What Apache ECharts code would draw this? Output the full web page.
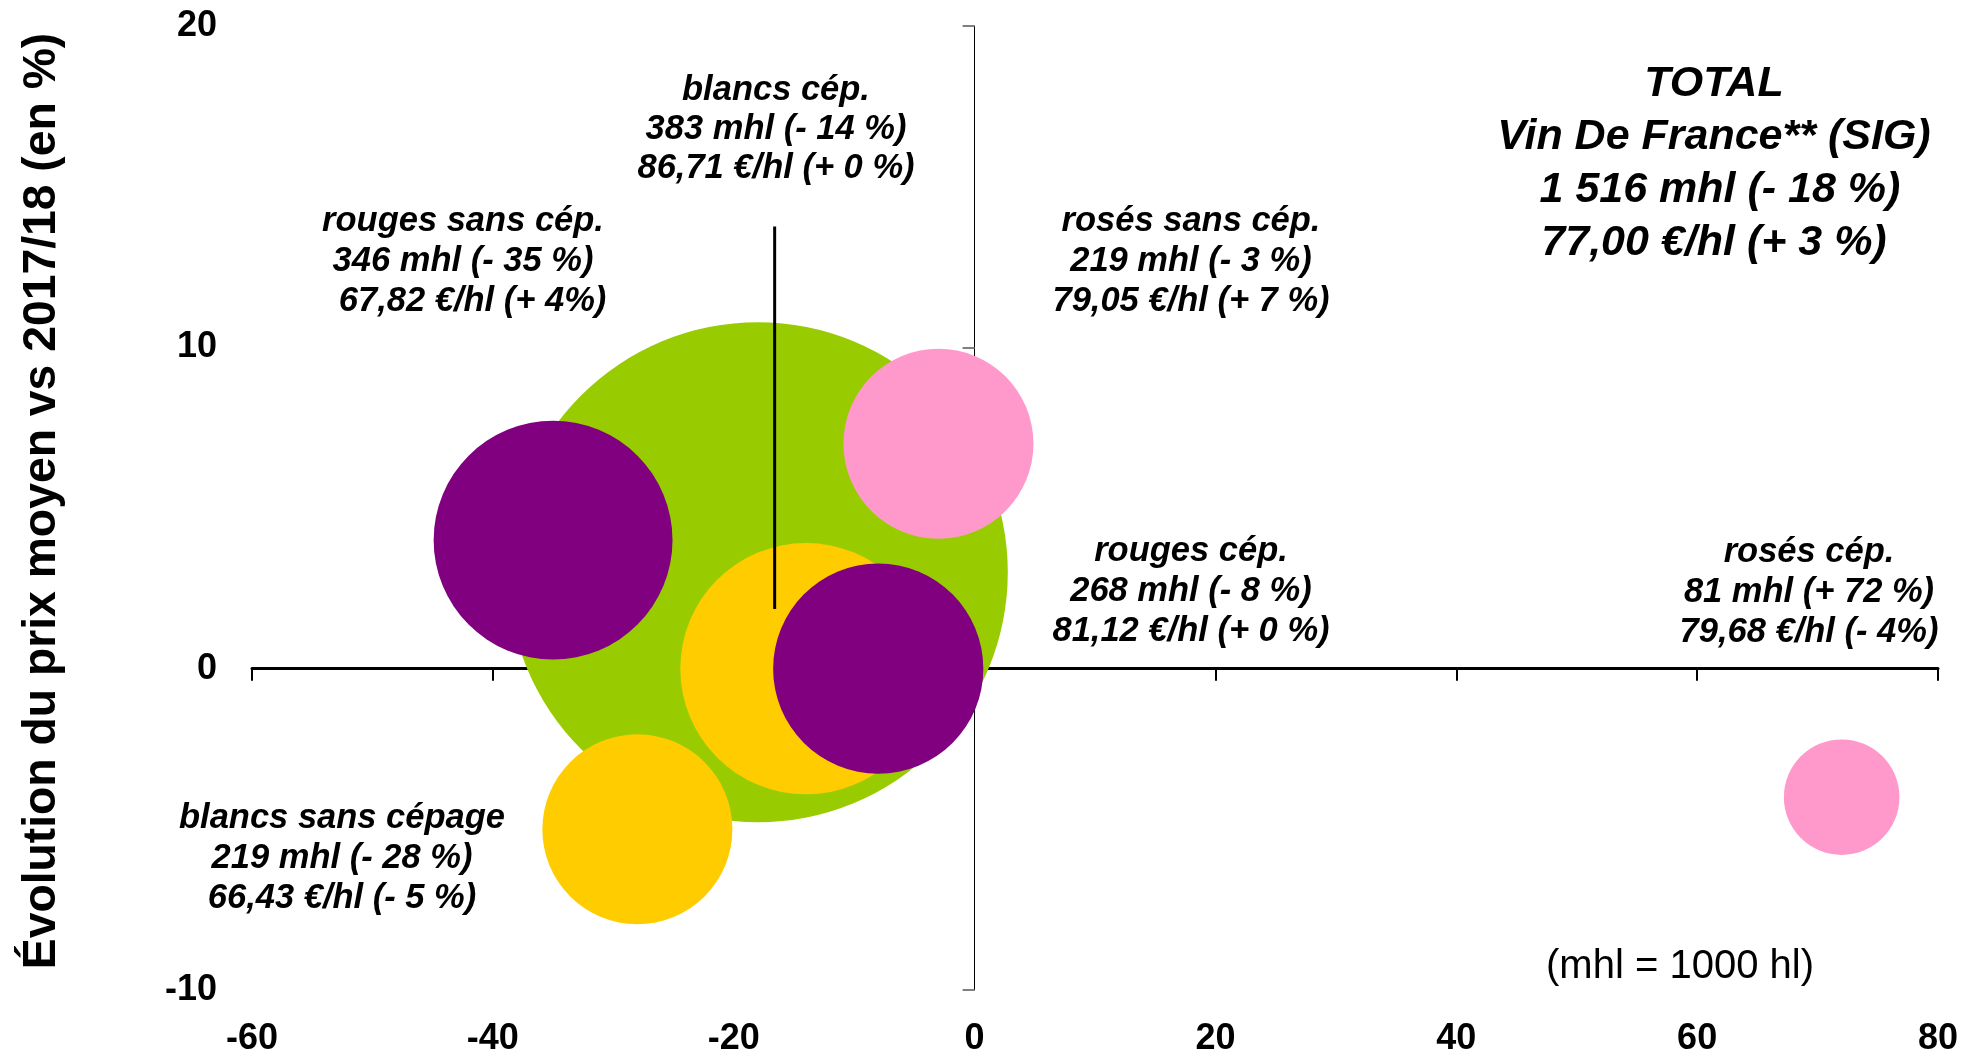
<!DOCTYPE html>
<html>
<head>
<meta charset="utf-8">
<script src="https://cdn.jsdelivr.net/npm/echarts@6/dist/echarts.min.js"></script>
<style>
html,body{margin:0;padding:0;background:#fff;}
#chart{width:1984px;height:1057px;}
</style>
</head>
<body>
<div id="chart"></div>
<script>
// ---- data ----
const categories = ['TOTAL', 'blancs cép.', 'rouges cép.', 'rouges sans cép.', 'rosés sans cép.', 'blancs sans cépage', 'rosés cép.'];
const volumeChange = [-18, -14, -8, -35, -3, -28, 72];     // x : évolution des volumes (%)
const priceChange  = [3, 0, 0, 4, 7, -5, -4];              // y : évolution du prix moyen (%)
const volumes      = [1516, 383, 268, 346, 219, 219, 81];  // mhl (bubble size)
const colors       = ['#99CC00', '#FFCC00', '#800080', '#800080', '#FF99CC', '#FFCC00', '#FF99CC'];
const xTicks = [-60, -40, -20, 0, 20, 40, 60, 80];
const yTicks = [-10, 0, 10, 20];
const labelTexts = [
  'TOTAL\nVin De France** (SIG)\n 1 516 mhl (- 18 %)\n77,00 €/hl (+ 3 %)',
  'blancs cép.\n383 mhl (- 14 %)\n86,71 €/hl (+ 0 %)',
  'rouges cép.\n268 mhl (- 8 %)\n81,12 €/hl (+ 0 %)',
  'rouges sans cép.\n346 mhl (- 35 %)\n  67,82 €/hl (+ 4%)',
  'rosés sans cép.\n219 mhl (- 3 %)\n79,05 €/hl (+ 7 %)',
  'blancs sans cépage\n219 mhl (- 28 %)\n66,43 €/hl (- 5 %)',
  'rosés cép.\n81 mhl (+ 72 %)\n79,68 €/hl (- 4%)'
];
const leaderLine = [[-16.6, 13.76], [-16.6, 1.86]];
const yTitle = 'Évolution du prix moyen vs 2017/18 (en %)';
const unitNote = '(mhl = 1000 hl)';

// ---- chart ----
const FONT = '"Liberation Sans", Arial, sans-serif';
const maxDiameter = 500;
const maxVol = Math.max.apply(null, volumes);
const chart = echarts.init(document.getElementById('chart'));

const bubbleData = categories.map((c, i) => ({
  name: c,
  value: [volumeChange[i], priceChange[i], volumes[i]],
  itemStyle: { color: colors[i] }
}));

const labelPos = [
  [1714, 164, 43, 53],
  [776, 129, 34.5, 39],
  [1191, 591, 34.5, 40],
  [463, 261, 34.5, 40],
  [1191, 261, 34.5, 40],
  [342, 858, 34.5, 40],
  [1809, 592, 34.5, 40]
];

const graphics = labelTexts.map((t, i) => ({
  type: 'text',
  x: labelPos[i][0], y: labelPos[i][1],
  z: 100,
  style: {
    text: t, fill: '#000',
    fontFamily: FONT, fontSize: labelPos[i][2], fontWeight: 'bold', fontStyle: 'italic',
    lineHeight: labelPos[i][3], textAlign: 'center', textVerticalAlign: 'middle'
  }
}));
graphics.push({
  type: 'text', x: 1680, y: 967, z: 100,
  style: { text: unitNote, fill: '#000', fontFamily: FONT, fontSize: 40, textAlign: 'center', textVerticalAlign: 'middle' }
});
graphics.push({
  type: 'text', x: 42, y: 501, rotation: Math.PI / 2, z: 100,
  style: { text: yTitle, fill: '#000', fontFamily: FONT, fontSize: 46.3, fontWeight: 'bold', textAlign: 'center', textVerticalAlign: 'middle' }
});

const xBase = { type: 'value', min: xTicks[0], max: xTicks[xTicks.length - 1], interval: 20, splitLine: { show: false } };
const yBase = { type: 'value', min: yTicks[0], max: yTicks[yTicks.length - 1], interval: 10, splitLine: { show: false } };

chart.setOption({
  animation: false,
  backgroundColor: '#fff',
  grid: { left: 252, right: 46, top: 26, bottom: 63, containLabel: false },
  xAxis: [
    Object.assign({}, xBase, {
      position: 'bottom',
      axisLine: { show: false, onZero: false },
      axisTick: { show: false },
      axisLabel: { color: '#000', fontFamily: FONT, fontSize: 36, fontWeight: 'bold', margin: 31 }
    }),
    Object.assign({}, xBase, {
      position: 'bottom',
      axisLine: { show: true, onZero: true, lineStyle: { color: '#000', width: 3 } },
      axisTick: { show: true, length: 12, lineStyle: { color: '#000', width: 2 } },
      axisLabel: { show: false }
    })
  ],
  yAxis: [
    Object.assign({}, yBase, {
      position: 'left',
      axisLine: { show: false, onZero: false },
      axisTick: { show: false },
      axisLabel: { color: '#000', fontFamily: FONT, fontSize: 36, fontWeight: 'bold', margin: 35 }
    }),
    Object.assign({}, yBase, {
      position: 'left',
      axisLine: { show: true, onZero: true, lineStyle: { color: '#000', width: 1 } },
      axisTick: { show: true, length: 12, lineStyle: { color: '#808080', width: 2 } },
      axisLabel: { show: false }
    })
  ],
  series: [
    {
      type: 'scatter',
      xAxisIndex: 0, yAxisIndex: 0,
      silent: true,
      data: bubbleData,
      symbol: 'circle',
      symbolSize: v => maxDiameter * Math.sqrt(v[2] / maxVol),
      itemStyle: { opacity: 1 }
    },
    {
      type: 'line',
      xAxisIndex: 0, yAxisIndex: 0,
      silent: true, z: 5,
      data: leaderLine,
      symbol: 'none',
      lineStyle: { color: '#000', width: 3 }
    }
  ],
  graphic: graphics
});
</script>
</body>
</html>
